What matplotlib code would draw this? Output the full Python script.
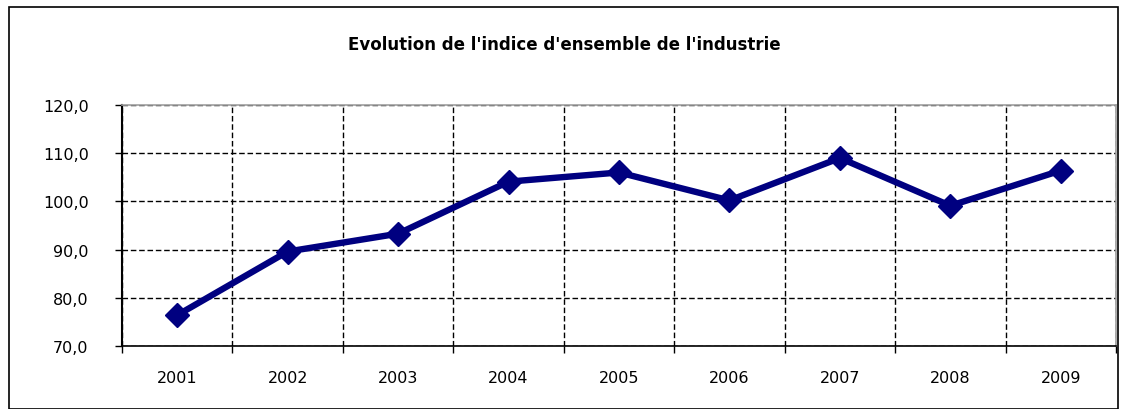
import matplotlib
matplotlib.use("Agg")
import matplotlib.pyplot as plt
from matplotlib.patches import Rectangle

years = ["2001", "2002", "2003", "2004", "2005", "2006", "2007", "2008", "2009"]
values = [76.4, 89.6, 93.3, 104.1, 106.0, 100.2, 109.0, 99.1, 106.4]
yticks = [70, 80, 90, 100, 110, 120]
title = "Evolution de l'indice d'ensemble de l'industrie"

plt.rcParams['font.family'] = ['DejaVu Sans']

fig = plt.figure(figsize=(11.28, 4.10), dpi=100)
W, H = 1128, 410
# outer frame
fig.patches.append(Rectangle((9/W, 0), (1118-9)/W, (410-8)/H, transform=fig.transFigure,
                             fill=False, edgecolor='black', linewidth=1.2))

left, right, top, bottom = 122, 1116, 106, 347
ax = fig.add_axes([left/W, 1-bottom/H, (right-left)/W, (bottom-top)/H])

x = list(range(len(years)))
ax.plot(x, values, color='#000080', linewidth=4.6, marker='D', markersize=12.5,
        markerfacecolor='#000080', markeredgecolor='#000080', zorder=5, clip_on=False)

ax.set_xlim(-0.5, len(years) - 0.5)
ax.set_ylim(70, 120)
ax.set_yticks(yticks)
ax.set_yticklabels([f"{v},0" for v in yticks], fontsize=11.5)
ax.set_xticks(x)
ax.set_xticklabels(years, fontsize=11.5)
ax.set_xticks([i + 0.5 for i in range(-1, len(years))], minor=True)
ax.tick_params(axis='x', which='major', length=0, pad=17)
ax.tick_params(axis='x', which='minor', length=5, direction='out', width=1)
ax.tick_params(axis='y', which='major', length=5, direction='out', width=1, pad=19)

ax.grid(True, axis='y', which='major', linestyle=(0, (4, 2)), color='black', linewidth=1)
ax.grid(True, axis='x', which='minor', linestyle=(0, (4, 2)), color='black', linewidth=1)
ax.set_axisbelow(True)

for s in ['top', 'right']:
    ax.spines[s].set_color('#a0a0a0')
    ax.spines[s].set_linewidth(1.2)
ax.spines['left'].set_color('black')
ax.spines['left'].set_linewidth(1.5)
ax.spines['bottom'].set_color('black')
ax.spines['bottom'].set_linewidth(1.2)

fig.text(564/W, 1-45/H, title, ha='center', va='center', fontsize=12, fontweight='bold')

fig.savefig("out.png", dpi=100)
